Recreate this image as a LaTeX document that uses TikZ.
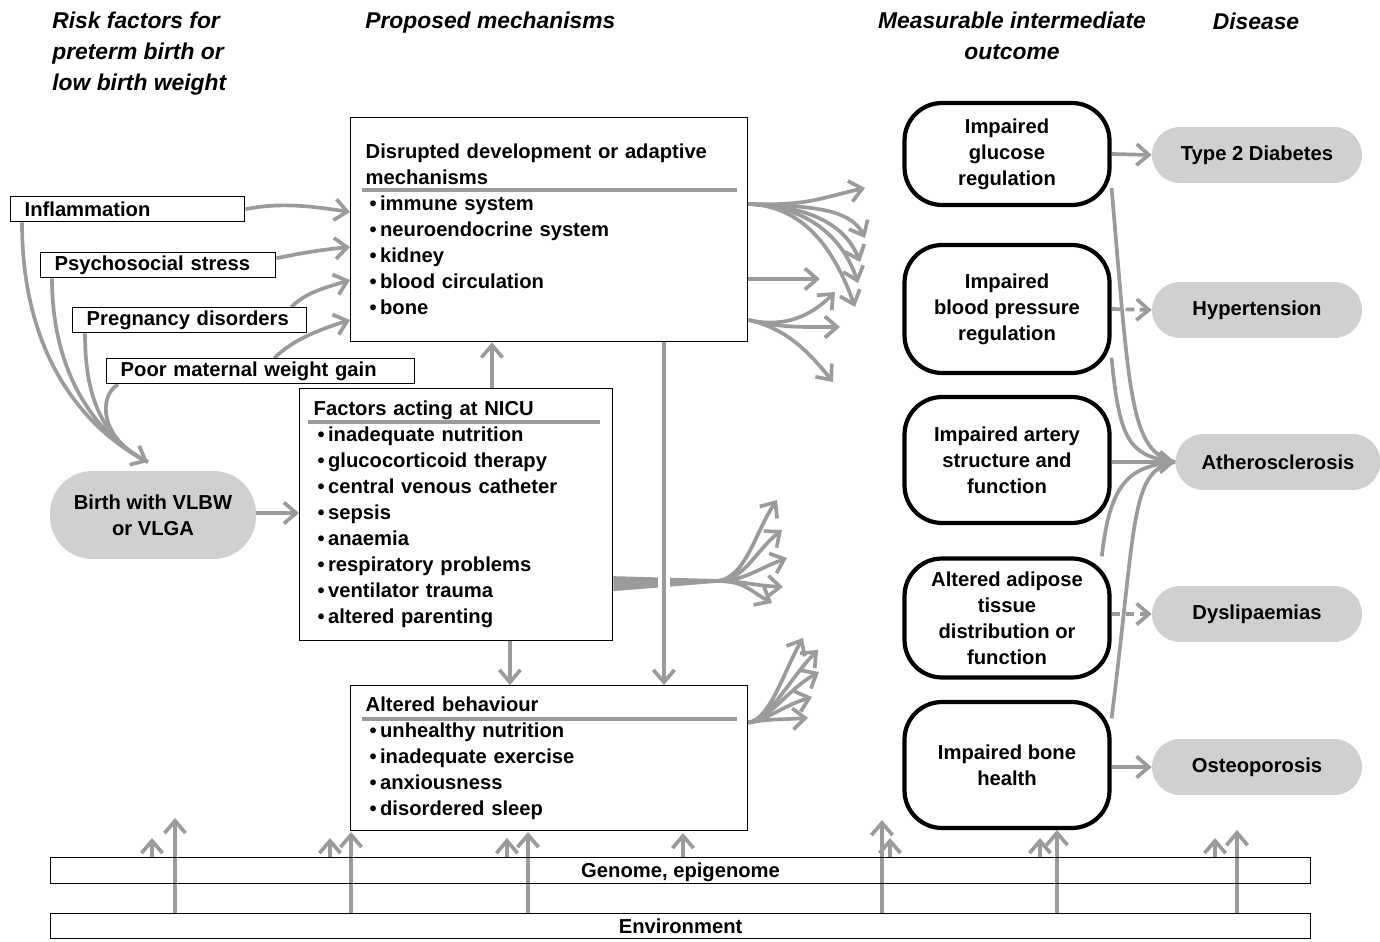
\documentclass[tikz,border=0pt]{standalone}
\usepackage{fontspec}
\setmainfont{Liberation Sans}
\usepackage{tikz}
\usetikzlibrary{arrows.meta,calc,backgrounds,positioning}
\pgfdeclarelayer{edgelayer}
\pgfdeclarelayer{nodelayer}
\pgfsetlayers{background,edgelayer,nodelayer,main}
\definecolor{arrowgray}{RGB}{155,155,155}
\definecolor{shadegray}{RGB}{208,208,208}
\newcommand{\bodyfont}{\fontsize{11.5}{14.8}\selectfont\bfseries}
\newcommand{\headfont}{\fontsize{13}{17.6}\selectfont\bfseries\itshape}
\newcommand{\itm}{\hspace*{0.08cm}\textbullet\,}
\tikzstyle{hd}=[font=\headfont,inner sep=0pt]
\tikzstyle{rb}=[draw,line width=0.8pt,anchor=north west,inner xsep=0.28cm,inner ysep=0pt,minimum height=0.5cm,align=left,font=\bodyfont]
\tikzstyle{mb}=[draw,line width=0.8pt,anchor=north west,inner xsep=0.3cm,inner ysep=0pt,align=left,font=\bodyfont]
\tikzstyle{ob}=[draw,line width=2.4pt,rounded corners=0.75cm,minimum width=4.1cm,align=center,font=\bodyfont]
\tikzstyle{db}=[fill=shadegray,rounded corners=0.56cm,minimum width=4.2cm,minimum height=1.12cm,font=\bodyfont]
\tikzstyle{gb}=[fill=shadegray,rounded corners=0.85cm,minimum width=4.12cm,minimum height=1.76cm,align=center,font=\bodyfont]
\tikzstyle{bar}=[draw,line width=0.8pt,anchor=north west,minimum width=25.2cm,inner sep=0pt,text height=1.6ex,text depth=0.1ex,font=\bodyfont]
\tikzstyle{gline}=[draw=arrowgray,line width=2.1pt]
\tikzstyle{ga}=[gline,-{Straight Barb[length=7pt,width=12pt]}]
\tikzstyle{dsh}=[dash pattern=on 5pt off 3pt]

\begin{document}
\begin{tikzpicture}[x=0.02cm,y=-0.02cm]
	\useasboundingbox (0,0) rectangle (1380,942);
	\begin{pgfonlayer}{nodelayer}
		% column headings
		\node [hd,anchor=west,align=left] (hrisk) at (52,54) {Risk factors for\\preterm birth or\\low birth weight};
		\node [hd,anchor=west] (hmech) at (365,23) {Proposed mechanisms};
		\node [hd,align=center] (hmeas) at (1012,36) {Measurable intermediate\\outcome};
		\node [hd] (hdis) at (1256,21) {Disease};
		% risk factors
		\node [rb,text width=4.12cm] (infl) at (10,196) {Inflammation};
		\node [rb,text width=4.14cm] (stress) at (40,252) {Psychosocial stress};
		\node [rb,text width=4.12cm] (preg) at (72,307) {Pregnancy disorders};
		\node [rb,text width=5.6cm] (gain) at (106,358) {Poor maternal weight gain};
		\node [gb] (birth) at (153,515) {Birth with VLBW\\or VLGA};
		% mechanisms
		\node [mb,text width=7.34cm,minimum height=4.48cm] (dis) at (350,117) {Disrupted development or adaptive\\mechanisms\\\itm immune system\\\itm neuroendocrine system\\\itm kidney\\\itm blood circulation\\\itm bone};
		\node [mb,inner xsep=0.28cm,text width=5.7cm,minimum height=5.04cm] (nicu) at (299,388) {Factors acting at NICU\\\itm inadequate nutrition\\\itm glucocorticoid therapy\\\itm central venous catheter\\\itm sepsis\\\itm anaemia\\\itm respiratory problems\\\itm ventilator trauma\\\itm altered parenting};
		\node [mb,text width=7.34cm,minimum height=2.9cm] (beh) at (350,685) {Altered behaviour\\\itm unhealthy nutrition\\\itm inadequate exercise\\\itm anxiousness\\\itm disordered sleep};
		% intermediate outcomes
		\node [ob,minimum height=2.04cm] (gluc) at (1007,154) {Impaired\\glucose\\regulation};
		\node [ob,minimum height=2.56cm] (bp) at (1007,309) {Impaired\\blood pressure\\regulation};
		\node [ob,minimum height=2.52cm] (art) at (1007,460) {Impaired artery\\structure and\\function};
		\node [ob,minimum height=2.38cm] (adip) at (1007,618) {Altered adipose\\tissue\\distribution or\\function};
		\node [ob,minimum height=2.52cm] (bone) at (1007,765) {Impaired bone\\health};
		% diseases
		\node [db] (t2d) at (1257,155) {Type 2 Diabetes};
		\node [db] (hyp) at (1257,310) {Hypertension};
		\node [db,minimum width=4.1cm] (ath) at (1278,462) {Atherosclerosis};
		\node [db] (dys) at (1257,614) {Dyslipaemias};
		\node [db] (ost) at (1257,767) {Osteoporosis};
		% background factors
		\node [bar,minimum height=0.52cm] (gen) at (50,857) {Genome, epigenome};
		\node [bar,minimum height=0.5cm] (env) at (50,913) {Environment};
	\end{pgfonlayer}
	\begin{pgfonlayer}{edgelayer}
		% title rules
		\draw [gline] (362,190) -- (737,190);
		\draw [gline] (308,422) -- (600,422);
		\draw [gline] (362,719) -- (737,719);
		% risk factors to birth
		\coordinate (tb) at (148,462);
		\draw [gline] ([xshift=0.24cm]infl.south west) .. controls +(0,150) and +(-48,-24) .. (tb);
		\draw [gline] ([xshift=0.24cm]stress.south west) .. controls +(0,100) and +(-48,-24) .. (tb);
		\draw [gline] ([xshift=0.26cm]preg.south west) .. controls +(0,60) and +(-48,-24) .. (tb);
		\draw [ga] ([xshift=0.24cm]gain.south west) .. controls +(-20,12) and +(-48,-24) .. (tb);
		% risk factors to mechanisms
		\draw [ga] (infl.east) .. controls +(35,-7) and +(-40,-6) .. ([yshift=-1.9cm]dis.north west);
		\draw [ga] ([yshift=0.14cm]stress.east) .. controls +(30,-6) and +(-30,3) .. ([yshift=-2.6cm]dis.north west);
		\draw [ga] ([xshift=-0.32cm]preg.north east) .. controls +(15,-15) and +(-25,8) .. ([yshift=-3.26cm]dis.north west);
		\draw [ga] ([xshift=-2.82cm]gain.north east) .. controls +(20,-20) and +(-25,8) .. ([yshift=-4.06cm]dis.north west);
		\draw [ga] (birth.east |- 0,513) -- (nicu.west |- 0,513);
		% between mechanisms
		\draw [ga] ([xshift=3.86cm]nicu.north west) coordinate (a1) -- (a1 |- dis.south);
		\draw [ga] ([xshift=4.22cm]nicu.south west) coordinate (a2) -- (a2 |- beh.north);
		% fans
		\coordinate (r1) at ([yshift=-1.74cm]dis.north east);
		\coordinate (f1) at (865,188);
		\coordinate (f2) at (865,238);
		\coordinate (f3) at (860,262);
		\coordinate (f4) at (858,283);
		\coordinate (f5) at (855,307);
		\foreach \t/\a/\b in {f1/-45/10, f2/-15/-30, f3/-15/-38, f4/-15/-45, f5/-18/-50}
			\draw [ga] (r1) .. controls +(60,2) and +(\a,\b) .. (\t);
		\coordinate (f6) at (820,279);
		\draw [ga] (dis.east |- f6) -- (f6);
		\coordinate (r3) at ([yshift=-4.06cm]dis.north east);
		\coordinate (f7) at (835,292);
		\coordinate (f8) at (840,327);
		\coordinate (f9) at (833,382);
		\foreach \t/\a/\b in {f7/-25/25, f8/-40/0, f9/-28/-35}
			\draw [ga] (r3) .. controls +(35,8) and +(\a,\b) .. (\t);
		\coordinate (nr) at ([yshift=-1.38cm]nicu.east);
		\coordinate (nb) at (715,581);
		\fill [arrowgray] ([yshift=0.15cm]nr) -- ([yshift=-0.15cm]nr) -- ([yshift=-0.04cm]nb) -- ([yshift=0.04cm]nb) -- cycle;
		\coordinate (g1) at (777,500);
		\coordinate (g2) at (782,530);
		\coordinate (g3) at (787,558);
		\coordinate (g4) at (783,587);
		\coordinate (g5) at (772,603);
		\foreach \t/\a/\b in {g1/-22/32, g2/-28/22, g3/-32/12, g4/-35/-2, g5/-25/-14}
			\draw [ga] (nb) .. controls +(30,0) and +(\a,\b) .. (\t);
		\draw [ga,preaction={draw=white,line width=7pt,-}] ([xshift=6.28cm]dis.south west) coordinate (a3) -- (a3 |- beh.north);
		\coordinate (r4) at ([yshift=0.71cm]beh.east);
		\coordinate (h1) at (803,638);
		\coordinate (h2) at (818,650);
		\coordinate (h3) at (819,672);
		\coordinate (h4) at (812,697);
		\coordinate (h5) at (808,718);
		\foreach \t/\a/\b in {h1/-20/35, h2/-28/28, h3/-32/18, h4/-32/10, h5/-35/2}
			\draw [ga] (r4) .. controls +(22,-4) and +(\a,\b) .. (\t);
		% outcomes to diseases
		\draw [ga] (gluc.east) -- (t2d.west);
		\draw [ga,dsh] (bp.east) -- (hyp.west);
		\draw [ga] (art.east |- ath.west) -- (ath.west);
		\draw [ga,dsh] (adip.east |- dys.west) -- (dys.west);
		\draw [ga] (bone.east |- ost.west) -- (ost.west);
		\draw [gline] (gluc.-18) .. controls +(18,210) and +(-45,-10) .. (ath.west);
		\draw [gline] (bp.-25) .. controls +(8,85) and +(-45,-6) .. (ath.west);
		\draw [gline] (adip.33) .. controls +(8,-75) and +(-45,4) .. (ath.west);
		\draw [gline] (bone.24) .. controls +(25,-200) and +(-45,8) .. (ath.west);
		% genome and environment
		\foreach \n/\x/\y in {1/175/818, 2/351/832, 3/528/832, 4/882/820, 5/1057/830, 6/1237/830} {
			\coordinate (u\n) at (\x,\y);
			\draw [ga] (u\n |- env.north) -- (u\n);
		}
		\foreach \n/\x/\y in {1/152/838, 2/330/838, 3/507/838, 4/683/833, 5/890/838, 6/1040/838, 7/1215/838} {
			\coordinate (v\n) at (\x,\y);
			\draw [ga] (v\n |- gen.north) -- (v\n);
		}
	\end{pgfonlayer}
\end{tikzpicture}
\end{document}
